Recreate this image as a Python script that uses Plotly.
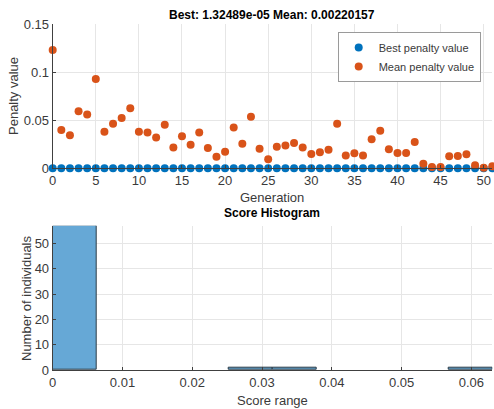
import plotly.graph_objects as go

generations = list(range(52))
mean_penalty = [0.1230, 0.0398, 0.0343, 0.0592, 0.0558, 0.0928, 0.0381, 0.0464, 0.0523, 0.0624,
                0.0381, 0.0371, 0.0319, 0.0454, 0.0215, 0.0333, 0.0246, 0.0371, 0.0211, 0.0121,
                0.0173, 0.0423, 0.0256, 0.0537, 0.0204, 0.0094, 0.0225, 0.0236, 0.0263, 0.0215,
                0.0149, 0.0166, 0.0194, 0.0464, 0.0132, 0.0156, 0.0132, 0.0301, 0.0391, 0.0197,
                0.0159, 0.0159, 0.0274, 0.0048, 0.0014, 0.0014, 0.0125, 0.0128, 0.0146, 0.0031,
                0.0007, 0.0022]
best_penalty = [0.00002] * 51 + [0.0000132489]

bin_edges = [0.0, 0.0063, 0.0126, 0.0189, 0.0252, 0.0315, 0.0378, 0.0441, 0.0504, 0.0567, 0.0630]
counts = [57, 0, 0, 0, 1, 1, 0, 0, 0, 1]

bin_centers = [(bin_edges[i] + bin_edges[i + 1]) / 2 for i in range(len(counts))]
bin_widths = [bin_edges[i + 1] - bin_edges[i] for i in range(len(counts))]
edge_widths = [1 if c > 0 else 0 for c in counts]

FONT = "Arial, Liberation Sans, Helvetica, sans-serif"
TXT = "#3a3a3a"
GRID = "#e6e6e6"

fig = go.Figure()
fig.add_trace(go.Scatter(x=generations, y=best_penalty, mode="markers", name="Best penalty value",
                         marker=dict(color="#0072BD", size=8), xaxis="x", yaxis="y", cliponaxis=False))
fig.add_trace(go.Scatter(x=generations, y=mean_penalty, mode="markers", name="Mean penalty value",
                         marker=dict(color="#D95319", size=8), xaxis="x", yaxis="y", cliponaxis=False))
fig.add_trace(go.Bar(x=bin_centers, y=counts, width=bin_widths, showlegend=False,
                     marker=dict(color="rgb(102,168,214)", line=dict(color="#2b3a46", width=edge_widths)),
                     xaxis="x2", yaxis="y2"))

xd = [52.7 / 494, 492.3 / 494]
axis_common = dict(showgrid=True, gridcolor=GRID, gridwidth=1, zeroline=False,
                   showline=True, linecolor="#404040", linewidth=1, ticks="inside",
                   ticklen=3, tickcolor="#404040", mirror=False, automargin=False,
                   tickfont=dict(family=FONT, size=13, color=TXT))

def ann(text, x, y, size=13, color=TXT, angle=0):
    return dict(text=text, x=x / 494, y=1 - y / 409, xref="paper", yref="paper",
                xanchor="center", yanchor="middle", showarrow=False, textangle=angle,
                font=dict(size=size, color=color, family=FONT))

fig.update_layout(
    width=494, height=409,
    margin=dict(l=0, r=0, t=0, b=0, autoexpand=False),
    paper_bgcolor="white", plot_bgcolor="white",
    font=dict(family=FONT, color=TXT),
    xaxis=dict(domain=xd, range=[0, 51], tickvals=list(range(0, 55, 5)), anchor="y", **axis_common),
    yaxis=dict(domain=[1 - 168.3 / 409, 1 - 24 / 409], range=[0, 0.15],
               tickvals=[0, 0.05, 0.1, 0.15], ticktext=["0", "0.05", "0.1", "0.15"],
               anchor="x", **axis_common),
    xaxis2=dict(domain=xd, range=[0, 0.063], tickvals=[0, 0.01, 0.02, 0.03, 0.04, 0.05, 0.06],
                ticktext=["0", "0.01", "0.02", "0.03", "0.04", "0.05", "0.06"], anchor="y2", **axis_common),
    yaxis2=dict(domain=[1 - 370 / 409, 1 - 225.7 / 409], range=[0, 57],
                tickvals=[0, 10, 20, 30, 40, 50], anchor="x2", **axis_common),
    legend=dict(x=480.7 / 494, y=1 - 32 / 409, xanchor="right", yanchor="top",
                bgcolor="white", bordercolor="#9a9a9a", borderwidth=1,
                font=dict(family=FONT, size=11, color=TXT), itemwidth=30, tracegroupgap=0),
    bargap=0,
    annotations=[
        ann("<b>Best: 1.32489e-05 Mean: 0.00220157</b>", 272, 15, size=12, color="black"),
        ann("Generation", 272, 197),
        ann("Penalty value", 14, 96, angle=-90),
        ann("<b>Score Histogram</b>", 272, 213, size=12, color="black"),
        ann("Score range", 272, 400),
        ann("Number of individuals", 26, 298, angle=-90),
    ],
)

fig.write_html("out.html")
